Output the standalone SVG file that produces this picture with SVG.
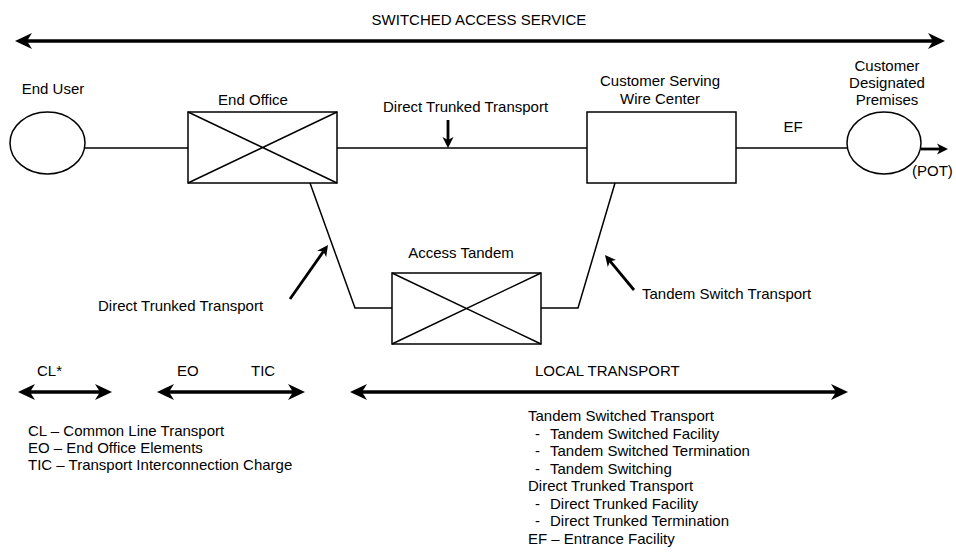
<svg xmlns="http://www.w3.org/2000/svg" width="956" height="553" viewBox="0 0 956 553">
  <style>
    text { font-family: "Liberation Sans", Arial, sans-serif; font-size: 15px; fill: #000; }
    .mid { text-anchor: middle; }
    .shape { fill: #fff; stroke: #000; stroke-width: 1.5; }
    .wire { fill: none; stroke: #000; stroke-width: 1.5; }
    .span { fill: none; stroke: #000; stroke-width: 3.5; marker-start: url(#bigHead); marker-end: url(#bigHead); }
    .pointer { fill: none; stroke: #000; stroke-width: 2.8; marker-end: url(#smallHead); }
  </style>
  <defs>
    <marker id="bigHead" markerUnits="userSpaceOnUse" markerWidth="18" markerHeight="18" viewBox="0 -9 18 18" refX="5" refY="0" orient="auto-start-reverse">
      <path d="M17,0 L0,-8 L5,0 L0,8 Z" fill="#000"/>
    </marker>
    <marker id="smallHead" markerUnits="userSpaceOnUse" markerWidth="12" markerHeight="12" viewBox="0 -6 12 12" refX="3" refY="0" orient="auto">
      <path d="M11,0 L0,-5.5 L3,0 L0,5.5 Z" fill="#000"/>
    </marker>
  </defs>

  <rect width="956" height="553" fill="#fff"/>

  <!-- overall service span -->
  <g id="service-span">
    <text class="mid" x="479" y="25">SWITCHED ACCESS SERVICE</text>
    <line class="span" x1="27" y1="41" x2="933" y2="41"/>
  </g>

  <!-- links between the offices -->
  <g id="connectors">
    <line class="wire" x1="85" y1="148" x2="188" y2="148"/>
    <line class="wire" x1="337" y1="148" x2="587" y2="148"/>
    <line class="wire" x1="736" y1="148" x2="847" y2="148"/>
    <polyline class="wire" points="310,183 355,308 392,308"/>
    <polyline class="wire" points="615,183 578,308 541,308"/>
  </g>

  <g id="end-user">
    <text class="mid" x="53" y="94">End User</text>
    <ellipse class="shape" cx="47.5" cy="143" rx="37.5" ry="31"/>
  </g>

  <g id="end-office">
    <text class="mid" x="253" y="105">End Office</text>
    <rect class="shape" x="188" y="112" width="149" height="71"/>
    <path class="wire" d="M188,112 L337,183 M337,112 L188,183"/>
  </g>

  <g id="wire-center">
    <text class="mid" x="660" y="86">Customer Serving</text>
    <text class="mid" x="660" y="104">Wire Center</text>
    <rect class="shape" x="587" y="112" width="149" height="71"/>
  </g>

  <g id="premises">
    <text class="mid" x="887" y="71">Customer</text>
    <text class="mid" x="887" y="88">Designated</text>
    <text class="mid" x="887" y="105">Premises</text>
    <ellipse class="shape" cx="884" cy="143" rx="37" ry="31"/>
    <line class="pointer" x1="921" y1="149" x2="940" y2="149"/>
    <text x="912" y="176">(POT)</text>
  </g>

  <g id="access-tandem">
    <text class="mid" x="461" y="258">Access Tandem</text>
    <rect class="shape" x="392" y="273" width="149" height="71"/>
    <path class="wire" d="M392,273 L541,344 M541,273 L392,344"/>
  </g>

  <!-- link labels -->
  <g id="link-labels">
    <text x="383" y="112">Direct Trunked Transport</text>
    <line class="pointer" x1="448" y1="120" x2="448" y2="140"/>
    <text x="793" y="132" class="mid">EF</text>
    <text x="98" y="311">Direct Trunked Transport</text>
    <line class="pointer" x1="290" y1="299" x2="323.4" y2="251.5"/>
    <text x="642" y="299">Tandem Switch Transport</text>
    <line class="pointer" x1="634" y1="290" x2="610.1" y2="261.2"/>
  </g>

  <!-- rate element spans -->
  <g id="rate-spans">
    <text x="37" y="376">CL*</text>
    <line class="span" x1="30" y1="392" x2="100" y2="392"/>
    <text x="177" y="376">EO</text>
    <text x="251" y="376">TIC</text>
    <line class="span" x1="169" y1="392" x2="293" y2="392"/>
    <text x="535" y="376">LOCAL TRANSPORT</text>
    <line class="span" x1="362" y1="392" x2="836" y2="392"/>
  </g>

  <g id="legend-left">
    <text x="28" y="436">CL – Common Line Transport</text>
    <text x="28" y="453">EO – End Office Elements</text>
    <text x="28" y="470">TIC – Transport Interconnection Charge</text>
  </g>

  <g id="legend-right">
    <text x="528" y="421">Tandem Switched Transport</text>
    <text x="535" y="439">-<tspan x="550">Tandem Switched Facility</tspan></text>
    <text x="535" y="456">-<tspan x="550">Tandem Switched Termination</tspan></text>
    <text x="535" y="474">-<tspan x="550">Tandem Switching</tspan></text>
    <text x="528" y="491">Direct Trunked Transport</text>
    <text x="535" y="509">-<tspan x="550">Direct Trunked Facility</tspan></text>
    <text x="535" y="526">-<tspan x="550">Direct Trunked Termination</tspan></text>
    <text x="528" y="544">EF – Entrance Facility</text>
  </g>
</svg>
